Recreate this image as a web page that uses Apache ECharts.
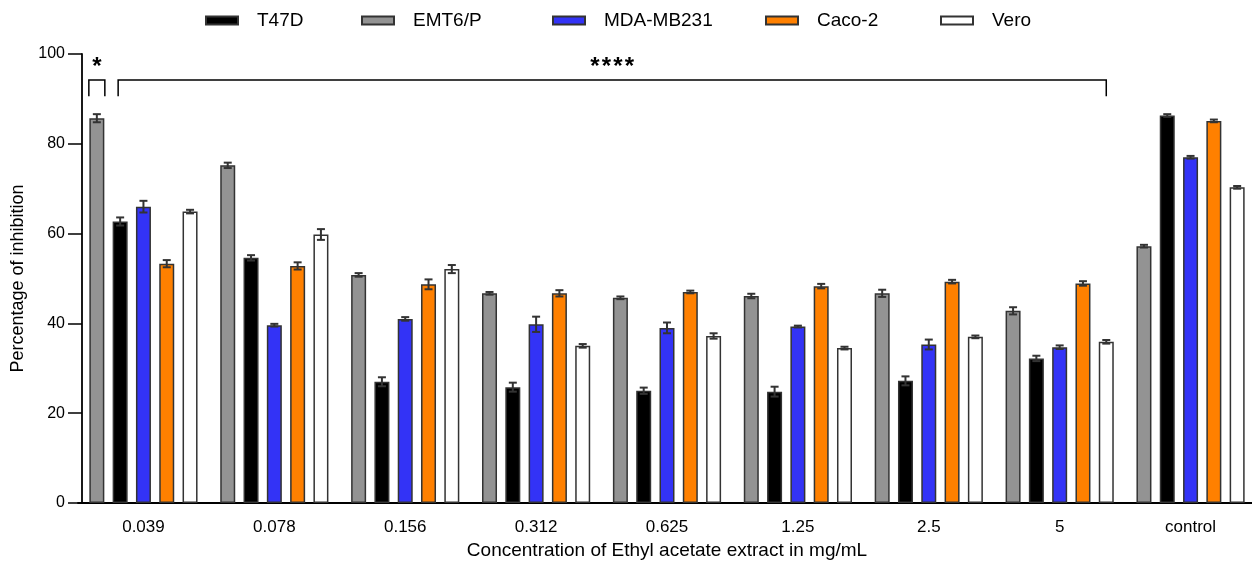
<!DOCTYPE html>
<html>
<head>
<meta charset="utf-8">
<script src="https://cdn.jsdelivr.net/npm/echarts@6/dist/echarts.min.js"></script>
<style>
html,body{margin:0;padding:0;background:#fff;overflow:hidden;}
#chart{width:1270px;height:567px;}
</style>
</head>
<body>
<div id="chart"></div>
<script>
const categories = ['0.039','0.078','0.156','0.312','0.625','1.25','2.5','5','control'];
// series in bar order within each group
const emt6 = [85.7, 75.2, 50.8, 46.7, 45.7, 46.1, 46.7, 42.8, 57.2];
const t47d = [62.7, 54.6, 27.0, 25.8, 25.0, 24.8, 27.2, 32.2, 86.3];
const mda  = [66.0, 39.6, 41.0, 39.8, 39.0, 39.3, 35.3, 34.7, 77.0];
const caco = [53.3, 52.8, 48.7, 46.7, 47.0, 48.3, 49.3, 48.9, 85.1];
const vero = [64.9, 59.8, 52.1, 35.0, 37.2, 34.5, 37.0, 35.9, 70.3];
// error (SD) values
const emt6Err = [0.9, 0.6, 0.4, 0.3, 0.3, 0.5, 0.8, 0.8, 0.3];
const t47dErr = [0.9, 0.6, 1.0, 1.0, 0.7, 1.1, 1.0, 0.6, 0.3];
const mdaErr  = [1.3, 0.3, 0.4, 1.7, 1.2, 0.2, 1.1, 0.4, 0.3];
const cacoErr = [0.8, 0.8, 1.1, 0.7, 0.3, 0.5, 0.4, 0.5, 0.3];
const veroErr = [0.4, 1.2, 0.9, 0.4, 0.6, 0.3, 0.3, 0.4, 0.3];
const yTicks = [0, 20, 40, 60, 80, 100];
const legendOrder = ['T47D', 'EMT6/P', 'MDA-MB231', 'Caco-2', 'Vero'];
// significance brackets: [startCategory, startBarSlot, endCategory, endBarSlot, label]
const sigBrackets = [
  [0, 0, 0, 0, '*'],
  [0, 1, 7, 4, '****']
];
const sigLevel = 94.2;
const sigLeg = 90.6;

const FONT = "'Liberation Sans', Arial, sans-serif";
const BAR_W = 15, BAR_GAP_PX = 8.3;
const PITCH = BAR_W + BAR_GAP_PX;

const seriesDefs = [
  {name: 'EMT6/P', data: emt6, err: emt6Err, color: '#939393'},
  {name: 'T47D', data: t47d, err: t47dErr, color: '#000000'},
  {name: 'MDA-MB231', data: mda, err: mdaErr, color: '#3333f6'},
  {name: 'Caco-2', data: caco, err: cacoErr, color: '#ff8000'},
  {name: 'Vero', data: vero, err: veroErr, color: '#ffffff'}
];
const nS = seriesDefs.length;
function slotOffset(k){ return (k - (nS - 1) / 2) * PITCH; }

const series = [];
seriesDefs.forEach((s, k) => {
  series.push({
    type: 'bar', name: s.name, data: s.data,
    barWidth: BAR_W, barGap: (BAR_GAP_PX / BAR_W * 100) + '%',
    itemStyle: {color: s.color, borderColor: '#333', borderWidth: 1.5},
    emphasis: {disabled: true}, z: 2
  });
});
seriesDefs.forEach((s, k) => {
  series.push({
    type: 'custom', name: 'err_' + s.name, z: 5, silent: true,
    encode: {x: 0, y: 1},
    data: s.data.map((v, i) => [i, v, s.err[i], k]),
    renderItem: function(params, api){
      const i = api.value(0), v = api.value(1), e = api.value(2), kk = api.value(3);
      const top = api.coord([i, v + e]);
      const bot = api.coord([i, v - e]);
      const xc = top[0] + slotOffset(kk);
      const cap = 4;
      const st = {stroke: '#333', lineWidth: 2};
      return {type: 'group', children: [
        {type: 'line', shape: {x1: xc, y1: top[1], x2: xc, y2: bot[1]}, style: st},
        {type: 'line', shape: {x1: xc - cap, y1: top[1], x2: xc + cap, y2: top[1]}, style: st},
        {type: 'line', shape: {x1: xc - cap, y1: bot[1], x2: xc + cap, y2: bot[1]}, style: st}
      ]};
    }
  });
});
series.push({
  type: 'custom', name: 'sig', z: 6, silent: true,
  encode: {x: 0, y: 1},
  data: sigBrackets.map(b => [b[0], sigLevel, b[1], b[2], b[3]]),
  renderItem: function(params, api){
    const b = sigBrackets[params.dataIndex];
    const p1 = api.coord([b[0], sigLevel]);
    const p2 = api.coord([b[2], sigLevel]);
    const pl = api.coord([b[0], sigLeg]);
    let x1 = p1[0] + slotOffset(b[1]);
    let x2 = p2[0] + slotOffset(b[3]);
    if (b[0] === b[2] && b[1] === b[3]) { x1 -= BAR_W / 2 + 0.5; x2 += BAR_W / 2 + 0.5; }
    else { x1 -= 2; }
    const y = p1[1], yl = pl[1];
    const st = {stroke: '#000', lineWidth: 1.5, fill: null};
    const children = [
      {type: 'polyline', shape: {points: [[x1, yl], [x1, y], [x2, y], [x2, yl]]}, style: st}
    ];
    const chars = b[4].split('');
    const spacing = 11.5;
    const cx = (x1 + x2) / 2;
    chars.forEach((ch, j) => {
      children.push({type: 'text', x: cx + (j - (chars.length - 1) / 2) * spacing, y: y - 1,
        style: {text: ch, fill: '#000', font: 'bold 24px ' + FONT, align: 'center', verticalAlign: 'bottom'}});
    });
    return {type: 'group', children: children};
  }
});

const legendLefts = [205, 361, 552, 765, 940];
const legends = legendOrder.map((name, idx) => ({
  data: [name], left: legendLefts[idx], top: 11, padding: 0,
  itemWidth: 32, itemHeight: 8, icon: 'rect',
  selectedMode: false,
  textStyle: {fontFamily: FONT, fontSize: 19, color: '#000', padding: [0, 0, 0, 14]}
}));

const chart = echarts.init(document.getElementById('chart'), null, {renderer: 'canvas'});
chart.setOption({
  animation: false,
  backgroundColor: '#fff',
  legend: legends,
  grid: {left: 78, top: 54, width: 1178, bottom: 64, containLabel: false},
  xAxis: {
    type: 'category', data: categories,
    axisLine: {lineStyle: {color: '#000', width: 1.8}},
    axisTick: {alignWithLabel: true, length: 12, lineStyle: {color: '#000', width: 1.5}},
    axisLabel: {color: '#000', fontFamily: FONT, fontSize: 17, margin: 16},
    name: 'Concentration of Ethyl acetate extract in mg/mL',
    nameLocation: 'middle', nameGap: 36,
    nameTextStyle: {color: '#000', fontFamily: FONT, fontSize: 19}
  },
  yAxis: {
    type: 'value', min: 0, max: 100, interval: 20, offset: -4,
    axisLine: {show: true, lineStyle: {color: '#000', width: 1.8}},
    axisTick: {show: true, length: 14, lineStyle: {color: '#000', width: 1.5}},
    splitLine: {show: false},
    axisLabel: {color: '#000', fontFamily: FONT, fontSize: 16, margin: 17,
      formatter: v => yTicks.indexOf(v) >= 0 ? String(v) : ''},
    name: 'Percentage of inhibition', nameLocation: 'middle', nameGap: 51, nameRotate: 90,
    nameTextStyle: {color: '#000', fontFamily: FONT, fontSize: 18}
  },
  series: series
});
</script>
</body>
</html>
